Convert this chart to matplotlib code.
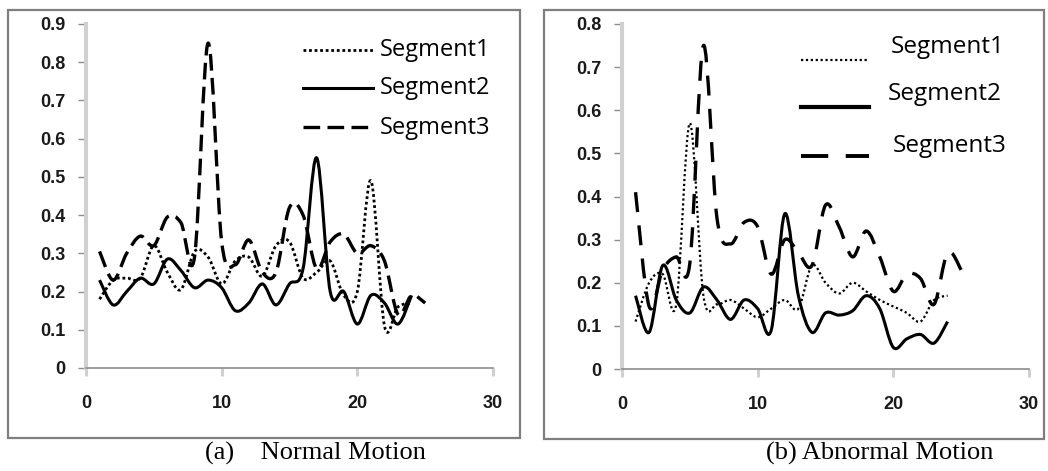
import numpy as np
import matplotlib.pyplot as plt
from matplotlib.path import Path
from matplotlib.patches import PathPatch, Rectangle
from matplotlib.lines import Line2D

# (a) Normal motion
x_norm = list(range(1, 26))
seg1_norm = [0.18, 0.23, 0.235, 0.235, 0.32, 0.25, 0.205, 0.305, 0.29, 0.22, 0.28, 0.29,
             0.24, 0.32, 0.33, 0.235, 0.25, 0.28, 0.19, 0.20, 0.49, 0.11, 0.16, 0.17]
seg2_norm = [0.23, 0.165, 0.20, 0.235, 0.22, 0.285, 0.255, 0.21, 0.23, 0.21, 0.15, 0.17,
             0.22, 0.165, 0.22, 0.26, 0.55, 0.20, 0.20, 0.115, 0.19, 0.17, 0.115, 0.19]
seg3_norm = [0.305, 0.23, 0.30, 0.345, 0.32, 0.395, 0.38, 0.29, 0.85, 0.33, 0.27, 0.335,
             0.25, 0.25, 0.42, 0.40, 0.26, 0.33, 0.35, 0.30, 0.32, 0.28, 0.14, 0.19, 0.17]

# (b) Abnormal motion
x_abn = list(range(1, 26))
seg1_abn = [0.11, 0.20, 0.22, 0.15, 0.57, 0.17, 0.15, 0.16, 0.14, 0.12, 0.14, 0.16,
            0.14, 0.24, 0.20, 0.175, 0.20, 0.18, 0.16, 0.145, 0.13, 0.11, 0.16, 0.17]
seg2_abn = [0.17, 0.085, 0.24, 0.16, 0.13, 0.19, 0.16, 0.115, 0.16, 0.14, 0.09, 0.36,
            0.17, 0.085, 0.13, 0.125, 0.135, 0.17, 0.14, 0.05, 0.07, 0.08, 0.06, 0.11]
seg3_abn = [0.41, 0.145, 0.23, 0.26, 0.245, 0.75, 0.35, 0.29, 0.34, 0.33, 0.22, 0.30,
            0.27, 0.24, 0.38, 0.33, 0.26, 0.32, 0.26, 0.18, 0.22, 0.21, 0.15, 0.27, 0.23]

labels = ['Segment1', 'Segment2', 'Segment3']
captions = ['(a)    Normal Motion', '(b) Abnormal Motion']


def smooth_path(xs, ys):
    """Excel-like smoothed line: Catmull-Rom turned into cubic Bezier pieces"""
    pts = np.column_stack([xs, ys]).astype(float)
    n = len(pts)
    verts = [pts[0]]
    codes = [Path.MOVETO]
    for i in range(n - 1):
        p0 = pts[i - 1] if i > 0 else pts[i]
        p1 = pts[i]
        p2 = pts[i + 1]
        p3 = pts[i + 2] if i + 2 < n else pts[i + 1]
        c1 = p1 + (p2 - p0) / 6.0
        c2 = p2 - (p3 - p1) / 6.0
        verts += [c1, c2, p2]
        codes += [Path.CURVE4] * 3
    return Path(verts, codes)


def draw_series(ax, xs, ys, style, lw):
    patch = PathPatch(smooth_path(xs[:len(ys)], ys), fill=False, edgecolor='black',
                      linewidth=lw, linestyle=style, capstyle='butt', joinstyle='round')
    ax.add_patch(patch)


fig = plt.figure(figsize=(10.48, 4.71), dpi=100)
W, H = 1048, 471

# outer grey frames
for (x0, y0, x1, y1) in [(8, 10, 520, 438), (544, 10, 1044, 439)]:
    fig.add_artist(Rectangle((x0 / W, 1 - y1 / H), (x1 - x0) / W, (y1 - y0) / H,
                             transform=fig.transFigure, fill=False,
                             edgecolor='#7f7f7f', linewidth=1.6))

ax1 = fig.add_axes([86 / W, 1 - 368 / H, 407 / W, 344 / H])
ax2 = fig.add_axes([622 / W, 1 - 369 / H, 407 / W, 345 / H])

dot_a = (0, (1.0, 1.0))
dash_a = (0, (5.0, 2.2))
dot_b = (0, (1.0, 1.2))
dash_b = (0, (6.0, 4.0))

draw_series(ax1, x_norm, seg1_norm, dot_a, 2.0)
draw_series(ax1, x_norm, seg2_norm, '-', 2.2)
draw_series(ax1, x_norm, seg3_norm, dash_a, 2.4)

draw_series(ax2, x_abn, seg1_abn, dot_b, 1.6)
draw_series(ax2, x_abn, seg2_abn, '-', 2.2)
draw_series(ax2, x_abn, seg3_abn, dash_b, 2.4)

for ax, ymax in [(ax1, 0.9), (ax2, 0.8)]:
    ax.set_xlim(0, 30)
    ax.set_ylim(0, ymax)
    ax.set_xticks([0, 10, 20, 30])
    ax.set_yticks(np.round(np.arange(0, ymax + 0.01, 0.1), 1))
    ax.set_yticklabels(['0'] + ['%.1f' % v for v in np.arange(0.1, ymax + 0.01, 0.1)])
    for s in ['top', 'right']:
        ax.spines[s].set_visible(False)
    ax.spines['left'].set_color('#d0d0d0')
    ax.spines['left'].set_linewidth(3.0)
    ax.spines['bottom'].set_color('#8c8c8c')
    ax.spines['bottom'].set_linewidth(1.2)
    ax.tick_params(axis='y', direction='out', length=5.5, width=1.0, color='#8c8c8c',
                   pad=9, labelsize=13, labelcolor='#1a1a1a')
    ax.tick_params(axis='x', direction='out', length=5.5, width=2.2, color='#d0d0d0',
                   pad=14, labelsize=13, labelcolor='#1a1a1a')
    for lab in ax.get_xticklabels() + ax.get_yticklabels():
        lab.set_fontfamily('Liberation Sans')
        lab.set_fontweight('bold')
    ax.patch.set_alpha(0)

# legends (drawn by hand to sit where the original ones are)
leg_a = [(303, 373, 50, 380, 50), (303, 373, 88, 380, 88), (303, 373, 127, 380, 128)]
styles_a = [(dot_a, 2.0), ('-', 2.2), (dash_a, 2.4)]
for (lx0, lx1, ly, tx, ty), (ls, lw), lab in zip(leg_a, styles_a, labels):
    fig.add_artist(Line2D([lx0 / W, lx1 / W], [1 - ly / H, 1 - ly / H], transform=fig.transFigure,
                          color='black', linestyle=ls, linewidth=lw))
    fig.text(tx / W, 1 - ty / H, lab, fontsize=17, family='Open Sans', va='center', ha='left')

leg_b = [(801, 869, 60, 891, 47), (801, 869, 107, 888, 94), (801, 869, 156, 893, 146)]
styles_b = [(dot_b, 1.6), ('-', 3.0), ((0, (7.0, 4.5)), 2.8)]
for (lx0, lx1, ly, tx, ty), (ls, lw), lab in zip(leg_b, styles_b, labels):
    fig.add_artist(Line2D([lx0 / W, lx1 / W], [1 - ly / H, 1 - ly / H], transform=fig.transFigure,
                          color='black', linestyle=ls, linewidth=lw))
    fig.text(tx / W, 1 - ty / H, lab, fontsize=17.5, family='Open Sans', va='center', ha='left')

fig.text(315 / W, 1 - 453 / H, captions[0], fontsize=19, family='Liberation Serif',
         ha='center', va='center')
fig.text(880 / W, 1 - 453 / H, captions[1], fontsize=19, family='Liberation Serif',
         ha='center', va='center')

fig.savefig('out.png', dpi=100)
